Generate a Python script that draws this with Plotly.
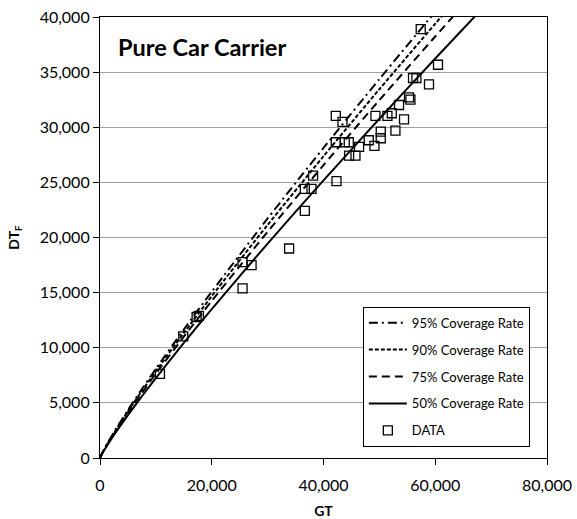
import plotly.graph_objects as go

# Sample points along each coverage-rate curve (GT -> DTF)
curve_gt = [0, 100, 500, 1500, 3000, 5000, 7500, 10000, 15000, 20000,
            30000, 40000, 50000, 60000, 70000]
dtf_95 = [0, 130, 550, 1474, 2748, 4345, 6255, 8099, 11656, 15091,
          21726, 28126, 34370, 40480, 46484]
dtf_90 = [0, 126, 535, 1435, 2674, 4228, 6087, 7882, 11343, 14685,
          21142, 27371, 33447, 39393, 45236]
dtf_75 = [0, 122, 519, 1393, 2595, 4104, 5908, 7650, 11009, 14253,
          20520, 26565, 32462, 38233, 43904]
dtf_50 = [0, 116, 492, 1320, 2460, 3890, 5600, 7251, 10435, 13510,
          19450, 25180, 30770, 36240, 41615]

# Observed ships
data_gt = [10729, 14900, 17290, 17700, 25516, 27126, 25516, 33849, 36656, 36656,
           37854, 38140, 42325, 42199, 43808, 44523, 44578, 45722, 46365, 48100,
           49119, 42199, 43397, 49298, 50246, 50246, 51444, 52213, 52874, 53518,
           54412, 55306, 55556, 56022, 56630, 58882, 60492, 57398]
data_dtf = [7627, 11030, 12790, 12900, 17772, 17500, 15380, 19004, 22418, 24411,
            24411, 25616, 25109, 28641, 28641, 28641, 27427, 27427, 28215, 28822,
            28306, 31023, 30480, 31023, 29601, 29003, 31023, 31268, 29692, 32020,
            30707, 32717, 32500, 34466, 34466, 33895, 35670, 38904]

FONT = "Lato"

fig = go.Figure()

curves = [
    ("95% Coverage Rate", dtf_95, "9px,4px,2px,4px"),
    ("90% Coverage Rate", dtf_90, "4px,2px"),
    ("75% Coverage Rate", dtf_75, "8px,5px"),
    ("50% Coverage Rate", dtf_50, "solid"),
]
for name, ys, dash in curves:
    fig.add_trace(go.Scatter(
        x=curve_gt, y=ys, mode="lines", name=name, legendgroup=name,
        line=dict(color="black", width=2, dash=dash, shape="spline", smoothing=0.6),
    ))

fig.add_trace(go.Scatter(
    x=data_gt, y=data_dtf, mode="markers", name="DATA", legendgroup="DATA",
    marker=dict(symbol="square-open", size=9, color="black", line=dict(width=1.3)),
))

fig.add_annotation(
    x=0.036, y=0.931, xref="x domain", yref="y domain",
    text="<b>Pure Car Carrier</b>", showarrow=False,
    xanchor="left", yanchor="middle",
    font=dict(family=FONT, size=23.5, color="black"),
)

fig.update_layout(
    width=577, height=519,
    margin=dict(l=100, r=30, t=17, b=61),
    paper_bgcolor="white", plot_bgcolor="white",
    font=dict(family=FONT, color="black"),
    showlegend=True,
    legend=dict(
        x=0.588, y=0.343, xanchor="left", yanchor="top",
        bgcolor="white", bordercolor="black", borderwidth=1,
        font=dict(family=FONT, size=13, color="black"),
        tracegroupgap=7, itemwidth=38,
    ),
)

fig.update_xaxes(
    range=[0, 80000], tickvals=[0, 20000, 40000, 60000, 80000],
    tickformat=",d", showgrid=False, zeroline=False, automargin=False,
    showline=True, linecolor="black", linewidth=1.2, mirror=True,
    ticks="outside", ticklen=6, tickcolor="black", ticklabelstandoff=7,
    tickfont=dict(family=FONT, size=16, color="black"),
    title=dict(text="<b>GT</b>", font=dict(family=FONT, size=14, color="black"), standoff=12),
)
fig.update_yaxes(
    range=[0, 40000], dtick=5000, tickformat=",d", automargin=False,
    showgrid=True, gridcolor="#a0a0a0", gridwidth=1, zeroline=False,
    showline=True, linecolor="black", linewidth=1.2, mirror=True,
    ticks="outside", ticklen=6, tickcolor="black",
    tickfont=dict(family=FONT, size=16, color="black"),
    title=dict(text="<b>DT<sub>F</sub></b>", font=dict(family=FONT, size=14, color="black"), standoff=16),
)

fig.write_html("out.html")
